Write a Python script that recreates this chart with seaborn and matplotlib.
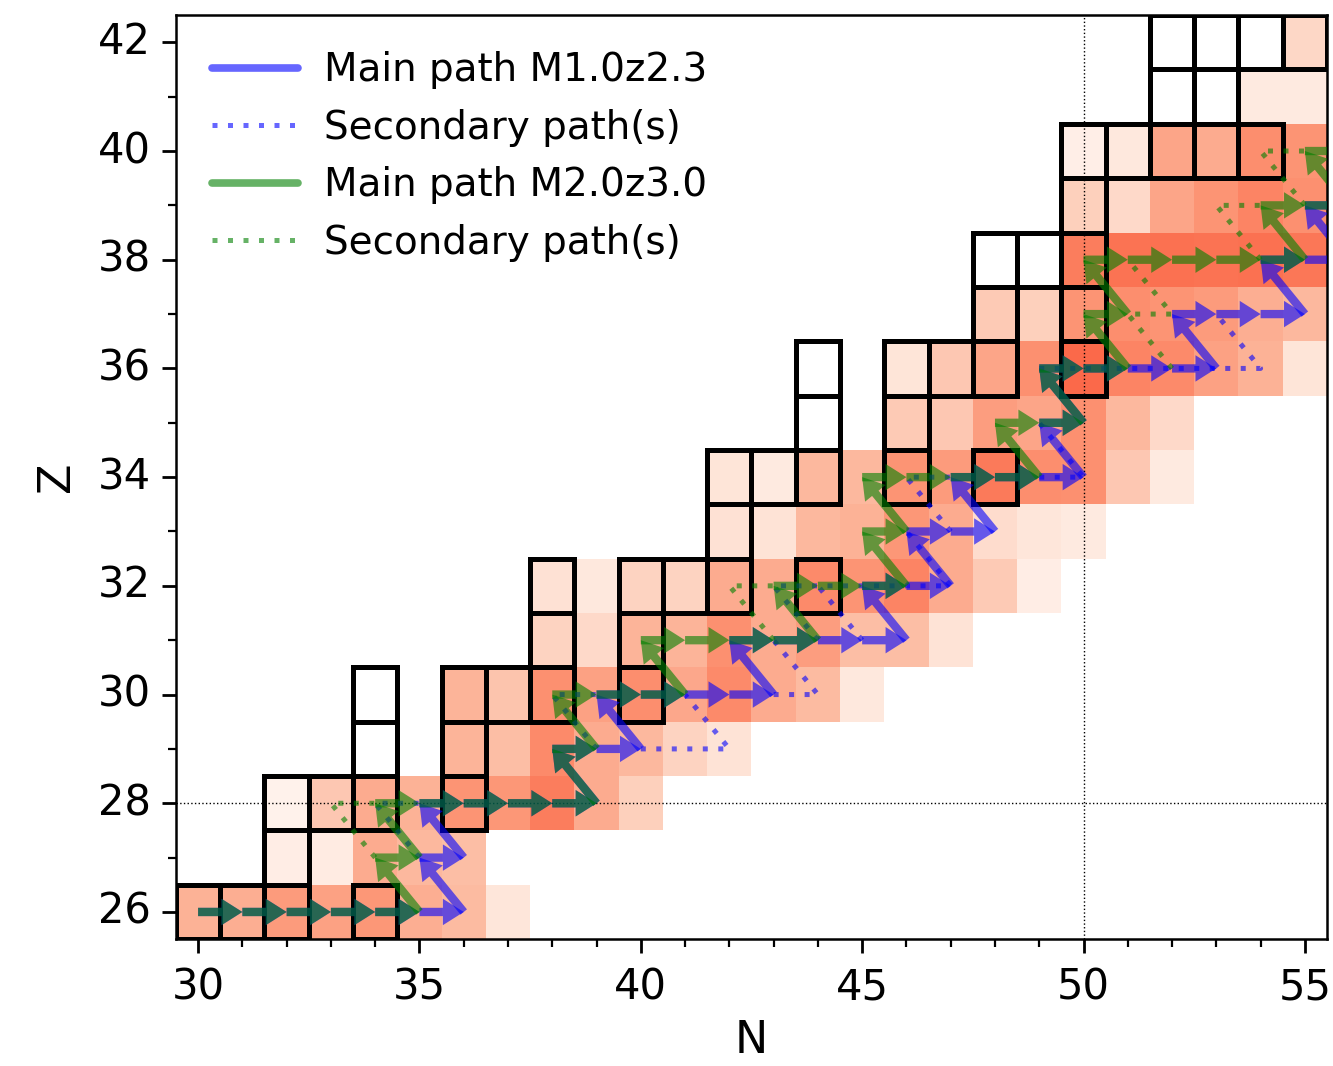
import numpy as np
import pandas as pd
import matplotlib
matplotlib.use("Agg")
import matplotlib.pyplot as plt
import seaborn as sns
from matplotlib.patches import Rectangle, FancyArrowPatch
from matplotlib.lines import Line2D

# ---------------------------------------------------------------------------
# Nuclide abundance level (0..1 on the Reds scale), one list per proton number
# ---------------------------------------------------------------------------
Z_ROWS = list(range(26, 43))
ROW_FIRST_N = [30, 32, 32, 36, 36, 38, 38, 42, 42, 46, 46, 48, 50, 50, 50, 54, 55]
ROW_LEVELS = [
    [0.28, 0.29, 0.35, 0.33, 0.36, 0.29, 0.25, 0.09],                     # Z=26
    [0.05, 0.06, 0.30, 0.26, 0.24],                                       # Z=27
    [0.02, 0.21, 0.30, 0.28, 0.37, 0.36, 0.44, 0.30, 0.18],               # Z=28
    [0.27, 0.24, 0.40, 0.30, 0.26, 0.17, 0.11],                           # Z=29
    [0.27, 0.22, 0.38, 0.33, 0.39, 0.31, 0.40, 0.30, 0.25, 0.08],         # Z=30
    [0.17, 0.15, 0.27, 0.27, 0.38, 0.30, 0.34, 0.24, 0.24, 0.11],         # Z=31
    [0.12, 0.08, 0.17, 0.17, 0.30, 0.30, 0.40, 0.37, 0.42, 0.30, 0.20, 0.05],  # Z=32
    [0.12, 0.11, 0.26, 0.28, 0.36, 0.30, 0.14, 0.09, 0.07],               # Z=33
    [0.10, 0.07, 0.26, 0.26, 0.37, 0.35, 0.45, 0.39, 0.38, 0.21, 0.07],   # Z=34
    [0.20, 0.21, 0.34, 0.32, 0.38, 0.26, 0.15],                           # Z=35
    [0.10, 0.21, 0.32, 0.38, 0.50, 0.42, 0.40, 0.33, 0.28, 0.10],         # Z=36
    [0.20, 0.18, 0.37, 0.39, 0.37, 0.35, 0.29, 0.26],                     # Z=37
    [0.44, 0.47, 0.48, 0.47, 0.48, 0.46],                                 # Z=38
    [0.18, 0.15, 0.32, 0.37, 0.42, 0.38],                                 # Z=39
    [0.04, 0.08, 0.32, 0.30, 0.39, 0.37],                                 # Z=40
    [0.07, 0.07],                                                         # Z=41
    [0.16],                                                               # Z=42
]
N_COLUMNS = list(range(30, 56))

# Stable / long-lived nuclides (outlined boxes)
STABLE_N = [30, 31, 32, 34, 32, 32, 33, 34, 36, 34, 36, 34, 36, 37, 38, 40,
            38, 40, 38, 40, 41, 42, 44, 42, 42, 43, 44, 46, 48, 44, 46,
            44, 46, 47, 48, 50, 48, 50, 48, 49, 50, 50, 50, 51, 52, 53, 54,
            52, 53, 52, 53, 54, 55]
STABLE_Z = [26, 26, 26, 26, 27, 28, 28, 28, 28, 29, 29, 30, 30, 30, 30, 30,
            31, 31, 32, 32, 32, 32, 32, 33, 34, 34, 34, 34, 34, 35, 35,
            36, 36, 36, 36, 36, 37, 37, 38, 38, 38, 39, 40, 40, 40, 40, 40,
            41, 41, 42, 42, 42, 42]

# Main reaction paths (node sequences)
BLUE_MAIN_N = [30, 31, 32, 33, 34, 35, 36, 35, 36, 35, 36, 37, 38, 39, 38, 39, 40,
               39, 40, 41, 42, 43, 42, 43, 44, 45, 46, 45, 46, 47, 46, 47, 48,
               47, 48, 49, 50, 49, 50, 49, 50, 51, 52, 53, 52, 53, 54, 55, 54,
               55, 56, 55, 56]
BLUE_MAIN_Z = [26, 26, 26, 26, 26, 26, 26, 27, 27, 28, 28, 28, 28, 28, 29, 29, 29,
               30, 30, 30, 30, 30, 31, 31, 31, 31, 31, 32, 32, 32, 33, 33, 33,
               34, 34, 34, 34, 35, 35, 36, 36, 36, 36, 36, 37, 37, 37, 37, 38,
               38, 38, 39, 39]
GREEN_MAIN_N = [30, 31, 32, 33, 34, 35, 34, 35, 34, 35, 36, 37, 38, 39, 38, 39, 38,
                39, 40, 41, 40, 41, 42, 43, 44, 43, 44, 45, 46, 45, 46, 45, 46,
                47, 48, 49, 48, 49, 50, 49, 50, 51, 50, 51, 50, 51, 52, 53, 54,
                55, 54, 55, 56, 55, 56]
GREEN_MAIN_Z = [26, 26, 26, 26, 26, 26, 27, 27, 28, 28, 28, 28, 28, 28, 29, 29, 30,
                30, 30, 30, 31, 31, 31, 31, 31, 32, 32, 32, 32, 33, 33, 34, 34,
                34, 34, 34, 35, 35, 35, 36, 36, 36, 37, 37, 38, 38, 38, 38, 38,
                38, 39, 39, 39, 40, 40]

# Secondary (branching) paths
BLUE_SIDE_N = [[35, 34, 35], [39, 38, 39], [40, 41, 42, 41], [43, 44, 43],
               [44, 43, 44, 45, 46, 47, 46], [45, 44], [47, 46, 47], [49, 50, 49],
               [49, 50, 51, 52, 53, 54, 53]]
BLUE_SIDE_Z = [[27, 28, 28], [29, 30, 30], [29, 29, 29, 30], [30, 30, 31],
               [31, 32, 32, 32, 32, 32, 33], [31, 32], [33, 34, 34], [34, 34, 35],
               [36, 36, 36, 36, 36, 36, 37]]
GREEN_SIDE_N = [[34, 33, 34], [43, 42, 43], [52, 51, 52, 51], [54, 53, 54], [55, 54, 55]]
GREEN_SIDE_Z = [[27, 28, 28], [31, 32, 32], [36, 37, 37, 38], [38, 39, 39], [39, 40, 40]]

N_TICKS = [30, 35, 40, 45, 50, 55]
Z_TICKS = [26, 28, 30, 32, 34, 36, 38, 40, 42]

# ---------------------------------------------------------------------------
sns.set_style("ticks")
plt.rcParams["font.family"] = ["DejaVu Sans"]
plt.rcParams.update({"text.color": "black", "axes.labelcolor": "black",
                     "xtick.color": "black", "ytick.color": "black"})

grid = pd.DataFrame(np.nan, index=Z_ROWS, columns=N_COLUMNS)
for z, n0, levels in zip(Z_ROWS, ROW_FIRST_N, ROW_LEVELS):
    for k, v in enumerate(levels):
        grid.loc[z, n0 + k] = v

fig = plt.figure(figsize=(13.33, 10.66), dpi=100)
ax = fig.add_axes([0.132, 0.119, 0.8635, 0.8668])

sns.heatmap(grid, ax=ax, cmap="Reds", vmin=0, vmax=1, cbar=False, linewidths=0)
ax.invert_yaxis()  # proton number increasing upwards


def px(n):
    return np.asarray(n, dtype=float) - (N_COLUMNS[0] - 0.5)


def py(z):
    return np.asarray(z, dtype=float) - (Z_ROWS[0] - 0.5)


# outlined stable nuclides
for n, z in zip(STABLE_N, STABLE_Z):
    ax.add_patch(Rectangle((px(n) - 0.5, py(z) - 0.5), 1, 1, fill=False,
                           ec="black", lw=3.6, joinstyle="miter", zorder=3))

# magic numbers
ax.axhline(py(28), color="black", ls=":", lw=1.0, zorder=3.5)
ax.axvline(px(50), color="black", ls=":", lw=1.0, zorder=3.5)

ARROW = "simple,head_length=15,head_width=19,tail_width=6"
DOTS = (1, 2.1)


def draw_main(ns, zs, color, z):
    xs, ys = px(ns), py(zs)
    for i in range(len(xs) - 1):
        ax.add_patch(FancyArrowPatch((xs[i], ys[i]), (xs[i + 1], ys[i + 1]),
                                     arrowstyle=ARROW, mutation_scale=1,
                                     shrinkA=0, shrinkB=0, fc=color, ec="none",
                                     lw=0, alpha=0.6, zorder=z))


def draw_side(ns_list, zs_list, color, z):
    for ns, zs in zip(ns_list, zs_list):
        ax.plot(px(ns), py(zs), color=color, alpha=0.6, lw=3.6, dashes=DOTS,
                dash_capstyle="butt", zorder=z)


draw_main(BLUE_MAIN_N, BLUE_MAIN_Z, "blue", 4.0)
draw_side(BLUE_SIDE_N, BLUE_SIDE_Z, "blue", 4.1)
draw_main(GREEN_MAIN_N, GREEN_MAIN_Z, "green", 4.2)
draw_side(GREEN_SIDE_N, GREEN_SIDE_Z, "green", 4.3)

ax.set_xlim(0, len(N_COLUMNS))
ax.set_ylim(0, len(Z_ROWS))

for s in ax.spines.values():
    s.set_visible(True)
    s.set_linewidth(1.8)
    s.set_color("black")

ax.set_xticks(px(N_TICKS))
ax.set_xticklabels([str(n) for n in N_TICKS], rotation=0)
ax.set_xticks(px(N_COLUMNS), minor=True)
ax.set_yticks(py(Z_TICKS))
ax.set_yticklabels([str(z) for z in Z_TICKS], rotation=0, va="center")
ax.set_yticks(py(Z_ROWS), minor=True)
ax.tick_params(which="major", length=10, width=2, labelsize=30,
               direction="out", bottom=True, left=True, colors="black")
ax.tick_params(axis="x", which="major", pad=10)
ax.tick_params(axis="y", which="major", pad=8)
ax.tick_params(which="minor", length=5.5, width=1.6, direction="out",
               bottom=True, left=True)
ax.set_xlabel("N", fontsize=32, labelpad=7, color="black")
ax.set_ylabel("Z", fontsize=32, labelpad=14, color="black")

handles = [
    Line2D([], [], color="blue", alpha=0.6, lw=5.5),
    Line2D([], [], color="blue", alpha=0.6, lw=3.6, dashes=DOTS),
    Line2D([], [], color="green", alpha=0.6, lw=5.5),
    Line2D([], [], color="green", alpha=0.6, lw=3.6, dashes=DOTS),
]
labels = ["Main path M1.0z2.3", "Secondary path(s)",
          "Main path M2.0z3.0", "Secondary path(s)"]
leg = ax.legend(handles, labels, loc="upper left", frameon=False, fontsize=28,
                handlelength=2.2, handletextpad=0.67, labelspacing=0.5,
                borderaxespad=0.58, borderpad=0.35)
for t in leg.get_texts():
    t.set_color("black")

fig.savefig("out.png", dpi=100)
